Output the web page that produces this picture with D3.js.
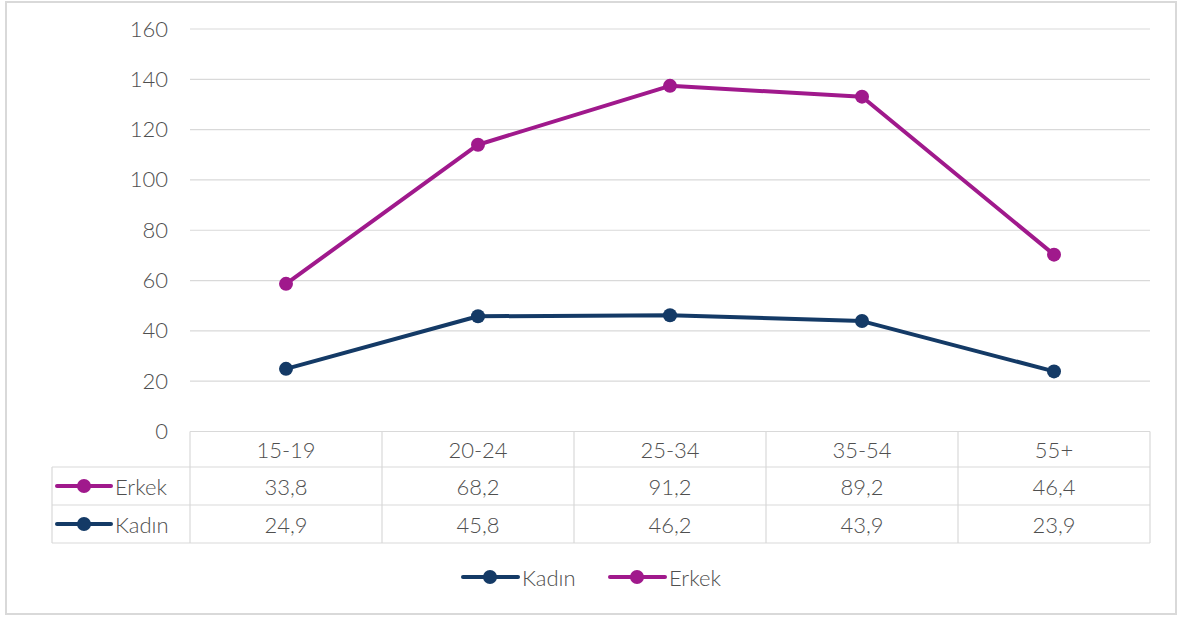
<!DOCTYPE html>
<html>
<head>
<meta charset="utf-8">
<script src="https://cdn.jsdelivr.net/npm/d3@7"></script>
<style>
  html, body { margin: 0; padding: 0; background: #fff; }
  svg { display: block; }
  text { font-family: "Century Gothic", Lato, "DejaVu Sans", sans-serif; font-weight: 300; fill: #4f4f4f; }
</style>
</head>
<body>
<svg id="chart" width="1182" height="618"></svg>
<script>
// Age groups and values (stacked line chart: Erkek is drawn on top of Kadın)
const categories = ["15-19", "20-24", "25-34", "35-54", "55+"];
const kadin = [24.9, 45.8, 46.2, 43.9, 23.9];
const erkek = [33.8, 68.2, 91.2, 89.2, 46.4];
const yTicks = [0, 20, 40, 60, 80, 100, 120, 140, 160];

const colors = { Kadın: "#143a66", Erkek: "#a0198c" };
const gridColor = "#d9d9d9";
const fontSize = "22px";

const svg = d3.select("#chart");
const W = 1182, H = 618;

// Outer frame
svg.append("rect")
  .attr("x", 6).attr("y", 2).attr("width", W - 12).attr("height", H - 6)
  .attr("fill", "#fff").attr("stroke", "#d9d9d9").attr("stroke-width", 2);

const plot = { left: 190, right: 1150, top: 29, bottom: 431.5 };

const x = d3.scaleBand().domain(categories).range([plot.left, plot.right]);
const y = d3.scaleLinear().domain([0, 160]).range([plot.bottom, plot.top]);

// Horizontal gridlines
svg.append("g").selectAll("line").data(yTicks.filter(d => d > 0)).join("line")
  .attr("x1", plot.left).attr("x2", plot.right)
  .attr("y1", d => y(d)).attr("y2", d => y(d))
  .attr("stroke", gridColor).attr("stroke-width", 1.2);

// Y axis labels
const yAxis = d3.axisLeft(y).tickValues(yTicks).tickSize(0).tickPadding(22);
const gy = svg.append("g").attr("transform", `translate(${plot.left},0)`).call(yAxis);
gy.select(".domain").remove();
gy.attr("font-family", null).attr("font-size", null);
gy.selectAll("text").style("font-size", fontSize).attr("fill", "#4f4f4f");

// Stacked series
const stackedKadin = kadin;
const stackedErkek = erkek.map((v, i) => +(v + kadin[i]).toFixed(1));

const line = d3.line()
  .x((d, i) => x(categories[i]) + x.bandwidth() / 2)
  .y(d => y(d));

const series = [
  { name: "Kadın", values: stackedKadin },
  { name: "Erkek", values: stackedErkek }
];

series.forEach(s => {
  const g = svg.append("g");
  g.append("path").datum(s.values)
    .attr("d", line).attr("fill", "none")
    .attr("stroke", colors[s.name]).attr("stroke-width", 4)
    .attr("stroke-linejoin", "round");
  g.selectAll("circle").data(s.values).join("circle")
    .attr("cx", (d, i) => x(categories[i]) + x.bandwidth() / 2)
    .attr("cy", d => y(d))
    .attr("r", 7)
    .attr("fill", colors[s.name]);
});

// Data table beneath the plot
const rows = [
  { name: "Erkek", values: erkek },
  { name: "Kadın", values: kadin }
];
const tableTop = plot.bottom, headerH = 35.5, rowH = 38;
const tableLeft = 52;
const tableBottom = tableTop + headerH + rowH * rows.length;
const fmt = v => d3.format(".1f")(v).replace(".", ",");

const tg = svg.append("g");
const tline = (x1, y1, x2, y2) => tg.append("line")
  .attr("x1", x1).attr("y1", y1).attr("x2", x2).attr("y2", y2)
  .attr("stroke", gridColor).attr("stroke-width", 1.2);

// horizontal rules
tline(plot.left, tableTop, plot.right, tableTop);
for (let r = 0; r <= rows.length; r++) {
  const yy = tableTop + headerH + r * rowH;
  tline(tableLeft, yy, plot.right, yy);
}
// vertical rules
tline(tableLeft, tableTop + headerH, tableLeft, tableBottom);
categories.forEach(c => tline(x(c), tableTop, x(c), tableBottom));
tline(plot.right, tableTop, plot.right, tableBottom);

// header labels
tg.selectAll("text.hdr").data(categories).join("text")
  .attr("class", "hdr")
  .attr("x", d => x(d) + x.bandwidth() / 2)
  .attr("y", tableTop + headerH / 2)
  .attr("text-anchor", "middle").attr("dominant-baseline", "central")
  .style("font-size", fontSize).text(d => d);

rows.forEach((row, r) => {
  const cy = tableTop + headerH + r * rowH + rowH / 2;
  // legend key in the row label
  tg.append("line").attr("x1", 57).attr("x2", 111).attr("y1", cy).attr("y2", cy)
    .attr("stroke", colors[row.name]).attr("stroke-width", 4).attr("stroke-linecap", "round");
  tg.append("circle").attr("cx", 84).attr("cy", cy).attr("r", 7).attr("fill", colors[row.name]);
  tg.append("text").attr("x", 115).attr("y", cy).attr("dominant-baseline", "central")
    .style("font-size", fontSize).text(row.name);
  tg.selectAll(null).data(row.values).join("text")
    .attr("x", (d, i) => x(categories[i]) + x.bandwidth() / 2)
    .attr("y", cy)
    .attr("text-anchor", "middle").attr("dominant-baseline", "central")
    .style("font-size", fontSize).text(d => fmt(d));
});

// Bottom legend
const legendItems = [
  { name: "Kadın", x: 463 },
  { name: "Erkek", x: 610 }
];
const ly = 577;
const lg = svg.append("g");
legendItems.forEach(it => {
  lg.append("line").attr("x1", it.x).attr("x2", it.x + 55).attr("y1", ly).attr("y2", ly)
    .attr("stroke", colors[it.name]).attr("stroke-width", 4).attr("stroke-linecap", "round");
  lg.append("circle").attr("cx", it.x + 27).attr("cy", ly).attr("r", 7).attr("fill", colors[it.name]);
  lg.append("text").attr("x", it.x + 59).attr("y", ly).attr("dominant-baseline", "central")
    .style("font-size", fontSize).text(it.name);
});
</script>
</body>
</html>
